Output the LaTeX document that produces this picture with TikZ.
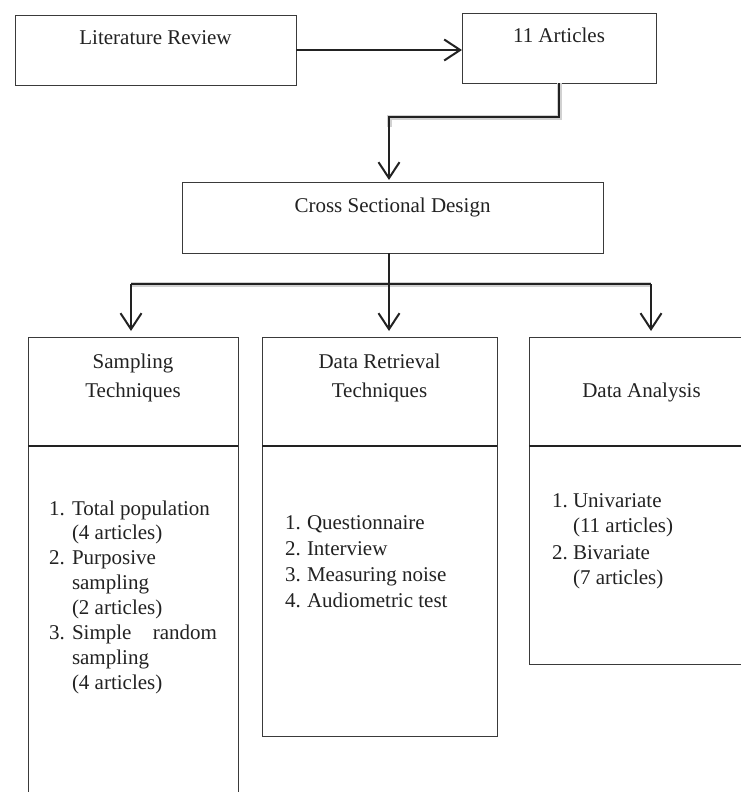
\documentclass[tikz,border=0pt]{standalone}
\usepackage{fontspec}
\setmainfont{Liberation Serif}
\usetikzlibrary{arrows.meta}
\definecolor{ink}{HTML}{222222}
\definecolor{edge}{HTML}{3A3A3A}
\tikzset{
  box/.style={draw=edge, line width=0.9pt, inner sep=0pt, outer sep=0pt},
  divider/.style={draw=ink, line width=1.6pt},
  txt/.style={inner sep=0pt, outer sep=0pt, text=ink, font=\fontsize{21}{25}\selectfont, anchor=base},
  ltxt/.style={txt, anchor=base west},
  rtxt/.style={txt, anchor=base east},
  conn/.style={draw=ink, line width=2pt},
  arr/.style={conn, -{Straight Barb[length=16pt,width=21pt,line width=2pt]}},
  shade/.style={draw=black!18, line width=5pt, shift={(2.5pt,-4pt)}}
}
\begin{document}
\begin{tikzpicture}[x=1pt,y=-1pt]
\useasboundingbox (0,0) rectangle (740,792);
\fill[white] (0,0) rectangle (740,792);

% top boxes
\node[box, minimum width=281pt, minimum height=70pt] (lr) at (155.5,50) {};
\node[txt] (lrT) at (155.5,45) {Literature Review};
\node[box, minimum width=194pt, minimum height=70pt] (art) at (559,48) {};
\node[txt] (artT) at (559,43) {11 Articles};
\node[box, minimum width=421pt, minimum height=71pt] (csd) at (392.5,217.5) {};
\node[txt] (csdT) at (392.5,212) {Cross Sectional Design};

% lower boxes: headers
\node[box, minimum width=210pt, minimum height=109pt] (sampH) at (133,391.5) {};
\node[box, minimum width=235pt, minimum height=109pt] (drH) at (379.5,391.5) {};
\node[box, minimum width=225pt, minimum height=109pt] (daH) at (641.5,391.5) {};
% lower boxes: bodies
\node[box, minimum width=210pt, minimum height=370pt] (sampB) at (133,631) {};
\node[box, minimum width=235pt, minimum height=290pt] (drB) at (379.5,591) {};
\node[box, minimum width=225pt, minimum height=218pt] (daB) at (641.5,555) {};
\draw[divider] (sampH.south west) -- (sampH.south east);
\draw[divider] (drH.south west) -- (drH.south east);
\draw[divider] (daH.south west) -- (daH.south east);

% header texts
\node[txt] (sampT1) at (133,368) {Sampling};
\node[txt] (sampT2) at (133,397) {Techniques};
\node[txt] (drT1) at (379.5,368) {Data Retrieval};
\node[txt] (drT2) at (379.5,397) {Techniques};
\node[txt] (daT) at (641.5,397) {Data Analysis};

% sampling list
\node[ltxt] (s1n) at (49,515) {1.};
\node[ltxt] (s1) at (72,515) {Total population};
\node[ltxt] (s1b) at (72,539.9) {(4 articles)};
\node[ltxt] (s2n) at (49,564.8) {2.};
\node[ltxt] (s2) at (72,564.8) {Purposive};
\node[ltxt] (s2b) at (72,589.7) {sampling};
\node[ltxt] (s2c) at (72,614.6) {(2 articles)};
\node[ltxt] (s3n) at (49,639.5) {3.};
\node[ltxt] (s3) at (72,639.5) {Simple};
\node[rtxt] (s3r) at (217,639.5) {random};
\node[ltxt] (s3b) at (72,664.4) {sampling};
\node[ltxt] (s3c) at (72,689.3) {(4 articles)};

% data retrieval list
\node[ltxt] (d1n) at (285,529) {1.};
\node[ltxt] (d1) at (307,529) {Questionnaire};
\node[ltxt] (d2n) at (285,555.3) {2.};
\node[ltxt] (d2) at (307,555.3) {Interview};
\node[ltxt] (d3n) at (285,581.6) {3.};
\node[ltxt] (d3) at (307,581.6) {Measuring noise};
\node[ltxt] (d4n) at (285,607.9) {4.};
\node[ltxt] (d4) at (307,607.9) {Audiometric test};

% data analysis list
\node[ltxt] (a1n) at (552,507) {1.};
\node[ltxt] (a1) at (573,507) {Univariate};
\node[ltxt] (a1b) at (573,532.5) {(11 articles)};
\node[ltxt] (a2n) at (552,559) {2.};
\node[ltxt] (a2) at (573,559) {Bivariate};
\node[ltxt] (a2b) at (573,584.5) {(7 articles)};

% junction coordinates
\coordinate (j1) at (389,117);
\coordinate (j2) at (389,284);
\coordinate (hl) at (131,284);
\coordinate (hr) at (651,284);

% shadows
\draw[shade] (art.south) |- (j1) -- ++(0,10);
\draw[shade] (hl) -- (hr);

% connectors
\draw[arr] (lr.east) -- (lr.east -| art.west);
\draw[arr, shorten >=2pt] (art.south) |- (j1) -- (j1 |- csd.north);
\draw[conn] (hl) -- (hr);
\draw[arr, shorten >=6pt] (j2 |- csd.south) -- (j2 |- drH.north);
\draw[arr, shorten >=6pt] (hl) -- (hl |- sampH.north);
\draw[arr, shorten >=6pt] (hr) -- (hr |- daH.north);
\end{tikzpicture}
\end{document}
